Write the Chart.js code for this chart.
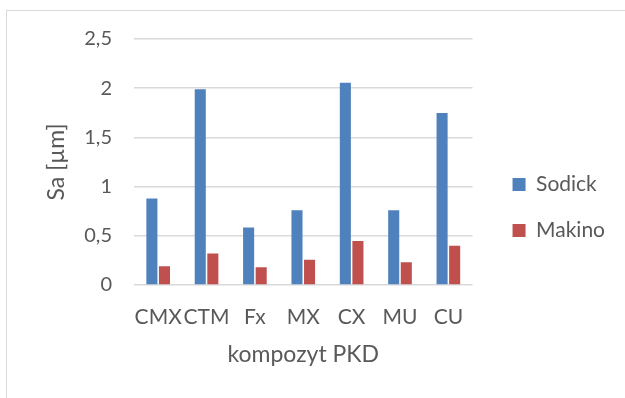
<!DOCTYPE html>
<html>
<head>
<meta charset="utf-8">
<script src="https://cdn.jsdelivr.net/npm/chart.js@4.4.1/dist/chart.umd.min.js"></script>
<style>
  html, body { margin: 0; padding: 0; background: #fff; }
  #wrap { position: relative; width: 625px; height: 398px; overflow: hidden; }
  #frame { position: absolute; left: 6px; top: 10px; width: 700px; height: 500px;
           border: 1px solid #d9d9d9; box-sizing: border-box; }
  #sa { position: absolute; left: 0; top: 0; }
</style>
</head>
<body>
<div id="wrap">
  <div id="frame"></div>
  <canvas id="sa" width="625" height="398"></canvas>
</div>
<script>
const categories = ['CMX', 'CTM', 'Fx', 'MX', 'CX', 'MU', 'CU'];
const sodick = [0.88, 1.99, 0.585, 0.76, 2.056, 0.76, 1.747];
const makino = [0.19, 0.32, 0.18, 0.257, 0.446, 0.23, 0.40];
const yTickLabels = ['0', '0,5', '1', '1,5', '2', '2,5'];

const grey = '#595959';
const fontFamily = 'Lato, "Open Sans", sans-serif';

// nudge the legend right of the plot and up to the middle of the frame
const legendShift = {
    id: 'legendShift',
    afterLayout: function (chart) {
        const lg = chart.legend;
        if (!lg) return;
        lg.left += 15;
        lg.right += 15;
        lg.top -= 11;
        lg.bottom -= 11;
    }
};

new Chart(document.getElementById('sa').getContext('2d'), {
    type: 'bar',
    data: {
        labels: categories,
        datasets: [
            { label: 'Sodick', data: sodick, backgroundColor: '#4f81bd' },
            { label: 'Makino', data: makino, backgroundColor: '#c0504d' }
        ]
    },
    plugins: [legendShift],
    options: {
        responsive: false,
        animation: false,
        devicePixelRatio: 1,
        layout: { padding: { left: 10, top: 39, right: 25, bottom: 0 } },
        datasets: {
            bar: { categoryPercentage: 0.52, barPercentage: 0.88 }
        },
        plugins: {
            legend: {
                position: 'right',
                labels: {
                    boxWidth: 13,
                    boxHeight: 13,
                    padding: 25,
                    color: grey,
                    font: { family: fontFamily, size: 21 }
                }
            },
            tooltip: { enabled: false }
        },
        scales: {
            x: {
                grid: { display: false },
                border: { display: false },
                ticks: {
                    color: grey,
                    padding: 12,
                    maxRotation: 0,
                    autoSkip: false,
                    font: { family: fontFamily, size: 21 }
                },
                title: {
                    display: true,
                    text: 'kompozyt PKD',
                    color: grey,
                    padding: { top: 8, bottom: 30 },
                    font: { family: fontFamily, size: 23 }
                },
                afterFit: function (scale) { scale.height = 113; }
            },
            y: {
                min: 0,
                max: 2.5,
                grid: { color: '#d9d9d9', lineWidth: 1.5, drawTicks: false },
                border: { display: false },
                ticks: {
                    stepSize: 0.5,
                    color: grey,
                    padding: 22,
                    font: { family: fontFamily, size: 20 },
                    callback: function (value, index) { return yTickLabels[index]; }
                },
                title: {
                    display: true,
                    text: 'Sa [µm]',
                    color: grey,
                    padding: { top: 33, bottom: 0 },
                    font: { family: fontFamily, size: 23 }
                },
                afterFit: function (scale) {
                    scale.width = 124;
                    scale.paddingTop = 0;
                    scale.paddingBottom = 0;
                }
            }
        }
    }
});
</script>
</body>
</html>
